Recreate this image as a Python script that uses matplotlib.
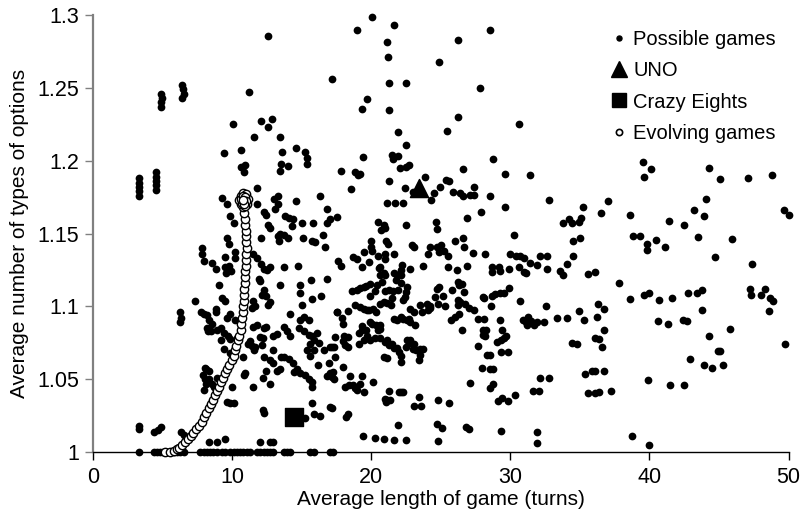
import matplotlib
matplotlib.use("Agg")
import matplotlib.pyplot as plt
from matplotlib.lines import Line2D
from matplotlib.ticker import FormatStrFormatter

plt.rcParams["font.family"] = ["Liberation Sans", "DejaVu Sans"]

# games that sit on y = 1 (no choice of option types)
axis_x = [3.3, 4.35, 4.6, 4.8, 5.05, 5.3, 5.55, 5.8, 6.0, 6.25, 6.5, 7.7, 7.95, 8.2,
          8.4, 8.65, 8.9, 9.25, 9.5, 9.85, 10.1, 10.35, 10.55, 10.8, 11.05, 11.3,
          11.75, 12.0, 12.25, 12.5, 12.75, 12.95, 13.7, 13.95, 14.15, 15.6, 15.85,
          17.05, 17.25]

# short games stacked in tight columns
columns = [(3.3, 1.176), (3.3, 1.179), (3.3, 1.182), (3.3, 1.185), (3.3, 1.188),
           (4.5, 1.180), (4.55, 1.183), (4.5, 1.186), (4.55, 1.189), (4.5, 1.192),
           (4.9, 1.237), (4.9, 1.240), (4.95, 1.243), (4.9, 1.246),
           (6.4, 1.243), (6.5, 1.246), (6.45, 1.249), (6.4, 1.252),
           (3.3, 1.016), (3.3, 1.018), (4.4, 1.014), (4.65, 1.015), (4.85, 1.017),
           (6.25, 1.096), (6.3, 1.092), (6.25, 1.089), (6.3, 1.014), (6.5, 1.012)]

upper_left = [(12.6, 1.2855), (11.2, 1.247), (10.05, 1.225), (12.05, 1.227), (12.85, 1.2285),
              (12.6, 1.2233), (11.6, 1.216), (13.45, 1.216), (9.4, 1.2055), (10.65, 1.207),
              (13.6, 1.206), (14.55, 1.209), (15.25, 1.206), (15.4, 1.202), (15.4, 1.198),
              (13.5, 1.1975), (14.0, 1.1965), (13.4, 1.193), (10.65, 1.196), (10.95, 1.197),
              (10.85, 1.192), (11.8, 1.181), (16.3, 1.176), (14.6, 1.172), (9.3, 1.1745),
              (9.6, 1.170), (9.85, 1.162), (10.1, 1.157), (11.8, 1.170), (13.0, 1.1735),
              (13.3, 1.176), (13.05, 1.167), (13.3, 1.170), (12.3, 1.165), (12.4, 1.163),
              (13.8, 1.162), (14.1, 1.161), (14.4, 1.160), (16.8, 1.167), (12.6, 1.156),
              (12.7, 1.154), (15.05, 1.157), (15.8, 1.157), (16.8, 1.157), (14.3, 1.155),
              (13.4, 1.150), (13.7, 1.149), (14.0, 1.147), (13.3, 1.148), (13.35, 1.145),
              (15.1, 1.147), (15.75, 1.145), (15.95, 1.144), (16.5, 1.149), (12.05, 1.147),
              (9.6, 1.147), (9.8, 1.143), (7.85, 1.140), (16.7, 1.141)]

upper_mid = [(20.05, 1.2988), (18.95, 1.290), (21.6, 1.293), (21.1, 1.2814), (21.2, 1.271),
             (17.2, 1.256), (21.3, 1.253), (22.5, 1.253), (19.7, 1.2425), (19.35, 1.2356),
             (21.3, 1.235), (21.95, 1.220), (22.5, 1.211), (19.4, 1.2023), (21.5, 1.204),
             (21.9, 1.2035), (21.55, 1.201), (17.85, 1.1926), (18.85, 1.192), (19.05, 1.1905),
             (19.2, 1.191), (22.05, 1.195), (22.5, 1.196), (22.7, 1.197), (21.3, 1.186),
             (18.55, 1.1805), (22.4, 1.181), (23.85, 1.1887), (23.0, 1.1787), (24.5, 1.178),
             (24.3, 1.173), (24.95, 1.1817), (25.4, 1.1865), (25.6, 1.186), (25.9, 1.1787),
             (26.4, 1.178), (26.6, 1.176), (27.1, 1.1764), (27.4, 1.1764), (27.35, 1.1817),
             (26.6, 1.194), (26.2, 1.2297), (25.45, 1.2203), (24.85, 1.268), (26.2, 1.2825),
             (28.55, 1.290), (27.8, 1.250), (30.6, 1.2255), (28.75, 1.201), (29.6, 1.191),
             (31.4, 1.190), (28.5, 1.176), (29.6, 1.168), (27.9, 1.165), (32.8, 1.173),
             (33.75, 1.157), (34.2, 1.160), (26.9, 1.1605), (30.25, 1.149), (24.65, 1.158),
             (24.75, 1.153), (22.5, 1.156), (20.5, 1.158), (20.9, 1.156), (21.0, 1.1535),
             (20.7, 1.1525), (21.1, 1.171), (21.7, 1.171), (22.3, 1.171), (20.0, 1.145),
             (21.05, 1.145), (21.2, 1.143), (20.0, 1.141), (17.05, 1.160), (17.5, 1.1615),
             (22.9, 1.142), (23.1, 1.141), (24.2, 1.141), (24.7, 1.141), (25.0, 1.142),
             (26.0, 1.145), (26.6, 1.147), (26.7, 1.1405)]

right = [(39.5, 1.1993), (40.1, 1.194), (39.6, 1.189), (44.3, 1.195), (45.1, 1.1876),
         (47.1, 1.1882), (48.8, 1.190), (37.0, 1.1723), (35.2, 1.168), (36.5, 1.164),
         (35.1, 1.161), (34.9, 1.158), (34.4, 1.157), (38.6, 1.163), (44.1, 1.1734),
         (43.2, 1.166), (43.9, 1.162), (41.4, 1.1588), (42.5, 1.1556), (49.7, 1.166),
         (50.0, 1.1625), (38.8, 1.1485), (39.3, 1.1485), (39.85, 1.1425), (39.85, 1.1387),
         (40.5, 1.1455), (41.1, 1.141), (43.5, 1.1475), (45.9, 1.146), (34.5, 1.145),
         (35.0, 1.147), (34.5, 1.1345), (44.7, 1.1338), (47.4, 1.1288), (35.6, 1.122),
         (36.1, 1.1235), (37.8, 1.116), (38.6, 1.1052), (39.6, 1.1075), (40.0, 1.109),
         (40.65, 1.1043), (41.65, 1.1057), (42.75, 1.109), (43.4, 1.109), (43.8, 1.111),
         (43.8, 1.0975), (47.2, 1.112), (47.3, 1.108), (48.0, 1.108), (48.3, 1.1117),
         (48.7, 1.106), (48.9, 1.104), (48.6, 1.097), (34.9, 1.097), (35.3, 1.091),
         (36.3, 1.102), (36.7, 1.098), (36.2, 1.093), (40.6, 1.0897), (41.3, 1.088),
         (42.4, 1.0906), (42.7, 1.0897), (44.25, 1.080), (45.8, 1.0842), (49.75, 1.074),
         (36.7, 1.0835), (36.1, 1.078), (36.4, 1.0778), (36.6, 1.0725), (34.4, 1.075),
         (34.8, 1.074), (44.9, 1.0695), (45.1, 1.0695), (42.9, 1.064), (43.9, 1.060),
         (44.5, 1.0577), (45.3, 1.060), (35.4, 1.0535), (35.9, 1.056), (36.05, 1.0555),
         (36.7, 1.056), (39.9, 1.0494), (41.5, 1.046), (42.5, 1.046), (35.6, 1.0405),
         (36.05, 1.0405), (36.4, 1.041), (37.2, 1.042), (38.75, 1.0108), (39.95, 1.005)]

center_left = [(8.3, 1.007), (8.9, 1.007), (9.5, 1.009), (12.0, 1.007), (12.75, 1.007),
               (12.9, 1.007), (12.2, 1.029), (12.3, 1.027), (15.25, 1.0237), (15.9, 1.026),
               (16.3, 1.0249), (15.75, 1.0338), (17.05, 1.031), (9.6, 1.0345), (9.85, 1.034),
               (10.1, 1.034), (12.75, 1.047), (11.5, 1.0446), (10.0, 1.045), (7.9, 1.053),
               (8.05, 1.050), (8.35, 1.050), (8.55, 1.047), (8.7, 1.045), (8.15, 1.047),
               (7.95, 1.0425), (8.9, 1.051), (8.05, 1.058), (8.15, 1.057), (8.3, 1.056),
               (10.9, 1.054), (10.85, 1.053), (10.8, 1.0654), (11.55, 1.070), (11.65, 1.0723),
               (12.15, 1.0734), (12.25, 1.0654), (12.4, 1.0558), (12.2, 1.051), (12.75, 1.063),
               (12.9, 1.061), (13.2, 1.056), (13.45, 1.057), (13.5, 1.065), (13.75, 1.0655),
               (14.1, 1.064), (12.25, 1.085), (12.45, 1.086), (12.95, 1.070), (12.0, 1.079),
               (12.2, 1.078), (12.9, 1.080), (13.2, 1.081), (11.3, 1.076), (11.4, 1.073),
               (11.1, 1.0745), (11.5, 1.086), (11.75, 1.087), (9.85, 1.068), (9.4, 1.071),
               (9.2, 1.077), (9.7, 1.080), (9.85, 1.0775), (10.35, 1.078), (8.9, 1.084),
               (9.2, 1.0855), (9.4, 1.082), (8.2, 1.085), (8.25, 1.083), (8.5, 1.083),
               (7.75, 1.096), (7.95, 1.095), (8.2, 1.094), (8.35, 1.0906), (8.55, 1.088),
               (8.8, 1.0963), (8.85, 1.098), (9.25, 1.106), (9.45, 1.104), (9.05, 1.1146),
               (9.6, 1.092), (9.85, 1.095), (10.2, 1.0905), (7.3, 1.104), (9.5, 1.127),
               (9.55, 1.123), (9.8, 1.128), (9.9, 1.1245), (8.85, 1.126), (7.85, 1.136),
               (7.95, 1.131), (8.55, 1.130), (9.45, 1.134), (10.2, 1.137), (10.2, 1.133),
               (11.5, 1.136), (11.8, 1.133), (12.1, 1.129), (12.3, 1.126), (12.5, 1.125),
               (12.7, 1.127), (11.9, 1.119), (12.0, 1.1175), (12.25, 1.111), (12.15, 1.108),
               (12.4, 1.107), (11.5, 1.104), (11.65, 1.1), (11.45, 1.099), (12.7, 1.103),
               (12.55, 1.101), (13.45, 1.115), (13.7, 1.127), (14.7, 1.128), (14.85, 1.115),
               (14.85, 1.109), (15.65, 1.118), (16.35, 1.107), (15.0, 1.101), (15.75, 1.105),
               (16.85, 1.119), (14.15, 1.095), (13.7, 1.086), (13.95, 1.083), (14.15, 1.0795),
               (14.85, 1.0906), (15.15, 1.093), (15.5, 1.0906), (14.8, 1.085), (15.15, 1.083),
               (15.5, 1.0805), (15.75, 1.080), (16.1, 1.0815), (15.6, 1.0745), (15.9, 1.077),
               (16.25, 1.075), (15.4, 1.070), (15.6, 1.066), (15.85, 1.070), (16.2, 1.0597),
               (14.4, 1.061), (14.45, 1.055), (14.65, 1.057), (14.9, 1.054), (15.25, 1.053),
               (15.5, 1.050), (15.75, 1.048), (15.7, 1.045), (16.8, 1.052), (17.0, 1.053),
               (16.95, 1.061), (16.6, 1.070), (17.05, 1.072)]

center_right = [(19.4, 1.011), (20.3, 1.010), (20.9, 1.009), (21.6, 1.0085), (22.5, 1.0082),
                (21.9, 1.0187), (24.8, 1.0077), (24.7, 1.019), (25.05, 1.0167), (26.8, 1.017),
                (27.0, 1.016), (29.3, 1.0146), (31.9, 1.0137), (31.9, 1.0064), (18.2, 1.024),
                (18.35, 1.0265), (17.2, 1.0306), (18.0, 1.0585), (17.2, 1.0517), (17.25, 1.055),
                (17.4, 1.065), (18.5, 1.052), (18.1, 1.045), (18.4, 1.046), (18.7, 1.046),
                (18.85, 1.0437), (18.95, 1.0425), (19.2, 1.047), (19.3, 1.0526), (19.45, 1.0414),
                (20.15, 1.048), (21.0, 1.0368), (21.15, 1.0355), (21.35, 1.0356), (21.05, 1.0345),
                (21.3, 1.042), (22.0, 1.041), (22.15, 1.041), (22.3, 1.0415), (22.15, 1.062),
                (23.1, 1.0315), (23.55, 1.032), (23.4, 1.0377), (24.8, 1.036), (25.6, 1.034),
                (23.4, 1.063), (23.5, 1.067), (23.7, 1.071), (23.5, 1.071), (23.2, 1.070),
                (23.0, 1.0711), (22.8, 1.0746), (22.6, 1.0768), (22.8, 1.0773), (23.05, 1.0741),
                (22.5, 1.0722), (22.1, 1.066), (21.97, 1.069), (21.85, 1.0716), (21.6, 1.0718),
                (21.5, 1.0745), (21.25, 1.0734), (21.1, 1.077), (21.0, 1.0757), (20.9, 1.065),
                (21.1, 1.0645), (20.65, 1.078), (20.5, 1.0837), (20.3, 1.078), (19.9, 1.077),
                (19.7, 1.0795), (19.45, 1.077), (19.3, 1.0837), (19.1, 1.0741), (18.35, 1.0791),
                (18.05, 1.0795), (18.1, 1.0734), (18.35, 1.0723), (18.0, 1.0762), (17.4, 1.0791),
                (17.3, 1.0723), (17.15, 1.0725), (18.0, 1.088), (17.9, 1.0922), (17.5, 1.0963),
                (18.35, 1.0967), (19.9, 1.0894), (20.05, 1.0878), (20.35, 1.0871), (20.6, 1.0871),
                (20.65, 1.0848), (19.35, 1.0867), (19.65, 1.0837), (19.1, 1.0815), (18.85, 1.1013),
                (19.2, 1.0993), (19.45, 1.0979), (19.7, 1.0974), (19.8, 1.0974), (20.15, 1.0985),
                (20.35, 1.0963), (20.65, 1.102), (20.9, 1.1031), (21.15, 1.1025), (21.45, 1.1009),
                (21.0, 1.1105), (21.25, 1.1112), (21.55, 1.1107), (21.5, 1.1055), (21.6, 1.0917),
                (21.85, 1.091), (22.1, 1.0928), (22.3, 1.0917), (22.6, 1.0906), (22.7, 1.0917),
                (22.8, 1.0894), (23.15, 1.0871), (22.75, 1.0979), (23.1, 1.0963), (22.5, 1.110),
                (22.45, 1.1066), (22.25, 1.1043), (22.6, 1.1134), (21.95, 1.1116), (22.1, 1.1162),
                (21.75, 1.118), (21.6, 1.1226), (21.85, 1.1214), (22.1, 1.1214), (20.8, 1.117),
                (20.65, 1.1214), (20.95, 1.1214), (20.4, 1.1146), (20.3, 1.1107), (19.9, 1.1157),
                (19.65, 1.1143), (19.45, 1.1134), (19.2, 1.1123), (18.95, 1.1112), (18.6, 1.1107),
                (19.9, 1.1073), (20.65, 1.1272), (20.55, 1.1265), (20.9, 1.1226), (20.45, 1.1347),
                (20.95, 1.1363), (21.6, 1.1363), (22.2, 1.1283), (22.1, 1.1253), (21.0, 1.1322),
                (19.85, 1.1306), (19.35, 1.127), (18.7, 1.134), (19.0, 1.1326), (19.45, 1.137),
                (20.05, 1.138), (22.75, 1.1256), (23.7, 1.1278), (24.05, 1.136), (24.85, 1.137),
                (25.2, 1.138), (25.5, 1.1345), (25.5, 1.127), (26.15, 1.1253), (26.9, 1.1276),
                (27.3, 1.1368), (28.2, 1.136), (28.7, 1.127), (29.2, 1.127), (29.25, 1.1242),
                (28.7, 1.1237), (30.0, 1.1359), (30.4, 1.1345), (30.7, 1.1345), (30.95, 1.1329),
                (30.6, 1.127), (30.95, 1.1237), (31.1, 1.1226), (31.4, 1.1295), (31.9, 1.1283),
                (32.15, 1.1345), (32.6, 1.1345), (29.9, 1.1256), (32.6, 1.126), (33.6, 1.124),
                (33.8, 1.1215), (34.1, 1.1294), (24.75, 1.112), (24.85, 1.113), (24.6, 1.1066),
                (25.15, 1.107), (25.3, 1.100), (24.77, 1.1015), (24.2, 1.1002), (24.25, 1.0986),
                (24.05, 1.0974), (23.65, 1.0963), (23.5, 1.1008), (24.0, 1.102), (25.8, 1.1116),
                (26.2, 1.1169), (26.3, 1.1146), (26.5, 1.1157), (26.65, 1.110), (26.2, 1.1043),
                (26.2, 1.1009), (26.3, 1.0951), (26.4, 1.1031), (26.75, 1.102), (27.0, 1.0986),
                (27.35, 1.0974), (25.7, 1.091), (26.0, 1.093), (26.5, 1.084), (27.65, 1.0727),
                (27.7, 1.0917), (28.1, 1.0917), (28.05, 1.084), (28.25, 1.084), (28.15, 1.080),
                (28.0, 1.0802), (28.0, 1.1066), (28.1, 1.1061), (28.6, 1.1002), (28.7, 1.1073),
                (28.9, 1.1084), (29.25, 1.1089), (29.55, 1.1093), (29.9, 1.1123), (30.7, 1.104),
                (29.25, 1.0906), (29.4, 1.0837), (29.3, 1.0768), (29.55, 1.078), (29.05, 1.0757),
                (29.65, 1.0796), (28.3, 1.067), (28.5, 1.067), (27.95, 1.058), (28.55, 1.0574),
                (28.75, 1.0574), (29.3, 1.069), (29.85, 1.069), (27.1, 1.0475), (28.5, 1.0443),
                (28.75, 1.047), (29.1, 1.0352), (29.4, 1.0375), (29.85, 1.0352), (30.3, 1.039),
                (31.6, 1.042), (32.05, 1.042), (32.1, 1.0512), (32.8, 1.0512), (30.9, 1.0906),
                (31.1, 1.0894), (31.2, 1.0871), (31.45, 1.0901), (31.7, 1.0871), (31.9, 1.0894),
                (32.4, 1.0894), (31.3, 1.0928), (33.35, 1.0924), (34.1, 1.0924), (32.55, 1.100),
                (17.6, 1.131), (17.85, 1.128), (17.5, 1.096), (17.05, 1.054), (17.3, 1.050)]

evolving_x = [5.2, 5.5, 5.8, 6.0, 6.2, 6.4, 6.6, 6.8, 7.0, 7.2, 7.4, 7.6, 7.8, 8.0, 8.15,
              8.3, 8.45, 8.6, 8.75, 8.9, 9.05, 9.2, 9.35, 9.5, 9.65, 9.8, 9.95, 10.1, 10.2,
              10.3, 10.4, 10.5, 10.6, 10.65, 10.7, 10.75, 10.8, 10.82, 10.85, 10.88, 10.9,
              10.92, 10.95, 10.97, 11.0, 11.02, 11.03, 11.02, 11.0, 10.98, 10.95, 10.92,
              10.88, 10.8, 10.6, 10.5, 10.6, 10.8, 11.0, 11.1, 11.05, 10.9, 10.7, 10.65,
              10.8, 10.95, 11.0, 10.85, 10.75]
evolving_y = [1.000, 1.000, 1.001, 1.002, 1.003, 1.005, 1.007, 1.009, 1.011, 1.013, 1.016,
              1.018, 1.021, 1.024, 1.027, 1.030, 1.033, 1.036, 1.039, 1.042, 1.045, 1.048,
              1.051, 1.054, 1.057, 1.060, 1.063, 1.066, 1.070, 1.073, 1.077, 1.080, 1.084,
              1.088, 1.092, 1.096, 1.100, 1.104, 1.108, 1.112, 1.116, 1.120, 1.124, 1.128,
              1.132, 1.136, 1.140, 1.144, 1.148, 1.152, 1.156, 1.160, 1.164, 1.168, 1.170,
              1.173, 1.176, 1.178, 1.177, 1.174, 1.170, 1.169, 1.171, 1.174, 1.176, 1.175,
              1.172, 1.170, 1.173]

uno = (23.4, 1.181)
crazy_eights = (14.45, 1.024)

points = columns + upper_left + upper_mid + right + center_left + center_right
possible_x = axis_x + [p[0] for p in points]
possible_y = [1.0] * len(axis_x) + [p[1] for p in points]

fig = plt.figure(figsize=(8.03, 5.15), dpi=100)
ax = fig.add_axes([0.116, 0.122, 0.866, 0.849])

ax.scatter(possible_x, possible_y, s=31, color="black", linewidths=0, zorder=3,
           clip_on=False)
ax.scatter(evolving_x, evolving_y, s=36, facecolor="white", edgecolor="black",
           linewidths=1.0, zorder=4, clip_on=False)
ax.scatter([uno[0]], [uno[1]], marker="^", s=170, color="black", zorder=5)
ax.scatter([crazy_eights[0]], [crazy_eights[1]], marker="s", s=150, color="black", zorder=5)

ax.set_xlim(0, 50)
ax.set_ylim(1, 1.3)
ax.set_xticks([0, 10, 20, 30, 40, 50])
ax.set_yticks([1, 1.05, 1.1, 1.15, 1.2, 1.25, 1.3])
ax.yaxis.set_major_formatter(FormatStrFormatter("%g"))

for side in ("top", "right"):
    ax.spines[side].set_visible(False)
ax.spines["left"].set_color("#808080")
ax.spines["left"].set_linewidth(1.6)
ax.spines["bottom"].set_color("black")
ax.spines["bottom"].set_linewidth(1.0)
ax.tick_params(axis="y", colors="#808080", labelcolor="black", length=6, width=1,
               labelsize=15.5, pad=4)
ax.tick_params(axis="x", colors="black", length=6, width=1, labelsize=15.5, pad=5)

ax.set_xlabel("Average length of game (turns)", fontsize=15, labelpad=1)
ax.set_ylabel("Average number of types of options", fontsize=15, labelpad=6)

handles = [
    Line2D([], [], linestyle="none", marker="o", markersize=3.6, color="black"),
    Line2D([], [], linestyle="none", marker="^", markersize=11, color="black"),
    Line2D([], [], linestyle="none", marker="s", markersize=10, color="black"),
    Line2D([], [], linestyle="none", marker="o", markersize=4.5, markerfacecolor="white",
           markeredgecolor="black", markeredgewidth=1.2),
]
labels = ["Possible games", "UNO", "Crazy Eights", "Evolving games"]
ax.legend(handles, labels, loc="upper left", bbox_to_anchor=(0.733, 0.985), frameon=False,
          fontsize=14.5, handlelength=0.8, handletextpad=0.3, labelspacing=0.62,
          borderaxespad=0)

fig.savefig("out.png", dpi=100)
